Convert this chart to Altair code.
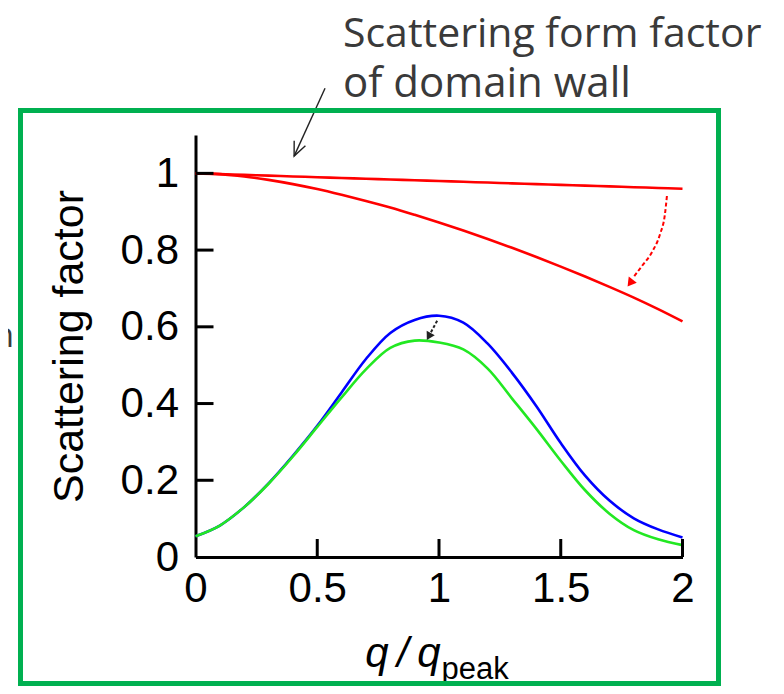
import altair as alt
import pandas as pd

# ---------------- data ----------------
q = [0.0, 0.1, 0.2, 0.3, 0.4, 0.5, 0.6, 0.7, 0.8, 0.9, 1.0,
     1.1, 1.2, 1.3, 1.4, 1.5, 1.6, 1.7, 1.8, 1.9, 2.0]
red_upper = [1.000, 0.998, 0.996, 0.994, 0.992, 0.990, 0.988, 0.986, 0.984, 0.982, 0.980,
             0.978, 0.976, 0.974, 0.972, 0.970, 0.968, 0.966, 0.964, 0.962, 0.960]
red_lower = [1.000, 0.998, 0.992, 0.983, 0.972, 0.959, 0.944, 0.928, 0.911, 0.892, 0.872,
             0.851, 0.829, 0.806, 0.782, 0.757, 0.731, 0.704, 0.676, 0.646, 0.614]
blue = [0.054, 0.082, 0.130, 0.192, 0.264, 0.342, 0.429, 0.516, 0.584, 0.618, 0.629,
        0.611, 0.556, 0.480, 0.393, 0.297, 0.212, 0.147, 0.101, 0.072, 0.051]
green = [0.054, 0.082, 0.130, 0.191, 0.262, 0.339, 0.416, 0.489, 0.545, 0.564, 0.559,
         0.541, 0.491, 0.413, 0.334, 0.251, 0.174, 0.113, 0.070, 0.046, 0.031]

x_ticks = [0, 0.5, 1, 1.5, 2]
y_ticks = [0, 0.2, 0.4, 0.6, 0.8, 1.0]
x_inner_ticks = [0.5, 1, 1.5, 2]
y_inner_ticks = [0.2, 0.4, 0.6, 0.8, 1.0]

# annotation arrows (in data units)
red_arrow_q = [1.936, 1.928, 1.908, 1.875, 1.834, 1.797]
red_arrow_v = [0.941, 0.894, 0.842, 0.795, 0.759, 0.728]
red_head = {"q": [1.785], "v": [0.714]}
blk_arrow_q = [0.996, 0.967]
blk_arrow_v = [0.620, 0.586]
blk_head = {"q": [0.958], "v": [0.575]}
wall_arrow_q = [0.532, 0.405]
wall_arrow_v = [1.222, 1.045]

# ---------------- chart ----------------
W, H = 487, 422
FONT = "Liberation Sans"

xs = alt.Scale(domain=[0, 2], nice=False, zero=False)
ys = alt.Scale(domain=[0, 1.1], nice=False, zero=False)

xaxis = alt.Axis(values=x_ticks, format="~g", ticks=False, grid=False,
                 domainColor="black", domainWidth=3, labelFont=FONT,
                 labelFontSize=42, labelColor="black", labelPadding=11,
                 labelFlush=False, labelOverlap=False, title=None)
yaxis = alt.Axis(values=y_ticks, format="~g", ticks=False, grid=False,
                 domainColor="black", domainWidth=3, labelFont=FONT,
                 labelFontSize=42, labelColor="black", labelPadding=17,
                 labelFlush=False, labelOverlap=False,
                 title="Scattering factor", titleFont=FONT, titleFontSize=43,
                 titleFontWeight="normal", titleColor="black", titlePadding=29)

X = alt.X("q:Q", scale=xs, axis=xaxis)
Y = alt.Y("v:Q", scale=ys, axis=yaxis)


def curve(vals, color):
    df = pd.DataFrame({"q": q, "v": vals})
    return alt.Chart(df).mark_line(color=color, strokeWidth=2.6,
                                   interpolate="catmull-rom", clip=False).encode(x=X, y=Y)


layers = [
    curve(red_upper, "#ff0000"),
    curve(red_lower, "#ff0000"),
    curve(blue, "#0000ff"),
    curve(green, "#22e822"),
]

# inward ticks
layers.append(alt.Chart(pd.DataFrame({"q": x_inner_ticks})).mark_rule(
    color="black", strokeWidth=3).encode(x=X, y=alt.value(H), y2=alt.value(H - 18)))
layers.append(alt.Chart(pd.DataFrame({"v": y_inner_ticks})).mark_rule(
    color="black", strokeWidth=3).encode(y=Y, x=alt.value(0), x2=alt.value(18)))

# red dashed curved arrow
layers.append(alt.Chart(pd.DataFrame({"q": red_arrow_q, "v": red_arrow_v})).mark_line(
    color="#ff0000", strokeWidth=2, strokeDash=[4, 2.5], interpolate="monotone",
    clip=False).encode(x=X, y=Y, order=alt.Order("v:Q", sort="descending")))
layers.append(alt.Chart(pd.DataFrame(red_head)).mark_point(
    shape="triangle-down", filled=True, color="#ff0000", size=100, angle=37,
    opacity=1).encode(x=X, y=Y))

# small black dashed arrow
layers.append(alt.Chart(pd.DataFrame({"q": blk_arrow_q, "v": blk_arrow_v})).mark_line(
    color="#222222", strokeWidth=2, strokeDash=[3, 2]).encode(x=X, y=Y))
layers.append(alt.Chart(pd.DataFrame(blk_head)).mark_point(
    shape="triangle-down", filled=True, color="#222222", size=85, angle=29,
    opacity=1).encode(x=X, y=Y))

# annotation arrow from the text
layers.append(alt.Chart(pd.DataFrame({"q": wall_arrow_q, "v": wall_arrow_v})).mark_line(
    color="#222222", strokeWidth=1.4, clip=False).encode(x=X, y=Y))
layers.append(alt.Chart(pd.DataFrame({"q": [wall_arrow_q[1]], "v": [wall_arrow_v[1]]})).mark_point(
    shape="M -0.55 -1.25 L 0 0 L 0.55 -1.25", filled=False, color="#222222",
    strokeWidth=1.4, size=500, angle=24, opacity=1, clip=False).encode(x=X, y=Y))

# x-axis title with subscript
layers.append(alt.Chart().mark_text(
    text="q\u2009/\u2009q", font=FONT, fontSize=42, fontStyle="italic", color="black",
    align="right", baseline="alphabetic").encode(x=alt.value(245), y=alt.value(532)))
layers.append(alt.Chart().mark_text(
    text="peak", font=FONT, fontSize=31, color="black",
    align="left", baseline="alphabetic").encode(x=alt.value(246), y=alt.value(544)))

# callout text
TXT = "#3a3a3a"
layers.append(alt.Chart().mark_text(
    text="Scattering form factor", font="Open Sans", fontSize=41, color=TXT,
    align="left", baseline="alphabetic").encode(x=alt.value(147.5), y=alt.value(-88)))
layers.append(alt.Chart().mark_text(
    text="of domain wall", font="Open Sans", fontSize=42, color=TXT,
    align="left", baseline="alphabetic").encode(x=alt.value(147.5), y=alt.value(-38)))
layers.append(alt.Chart().mark_text(
    text="n", font="Open Sans", fontSize=34, color=TXT,
    align="right", baseline="alphabetic").encode(x=alt.value(-181.5), y=alt.value(212)))

# green frame
layers.append(alt.Chart().mark_rect(
    fill=None, fillOpacity=0, stroke="#00b050", strokeWidth=5).encode(
    x=alt.value(-175), x2=alt.value(523), y=alt.value(-24.5), y2=alt.value(548.5)))

chart = alt.layer(*layers).properties(
    width=W, height=H,
    autosize=alt.AutoSizeParams(type="none"),
    padding={"left": 187.5, "top": 127, "right": 93.5, "bottom": 129},
).configure_view(stroke=None)

chart.save("out.html", embed_options={"renderer": "svg", "actions": False})
